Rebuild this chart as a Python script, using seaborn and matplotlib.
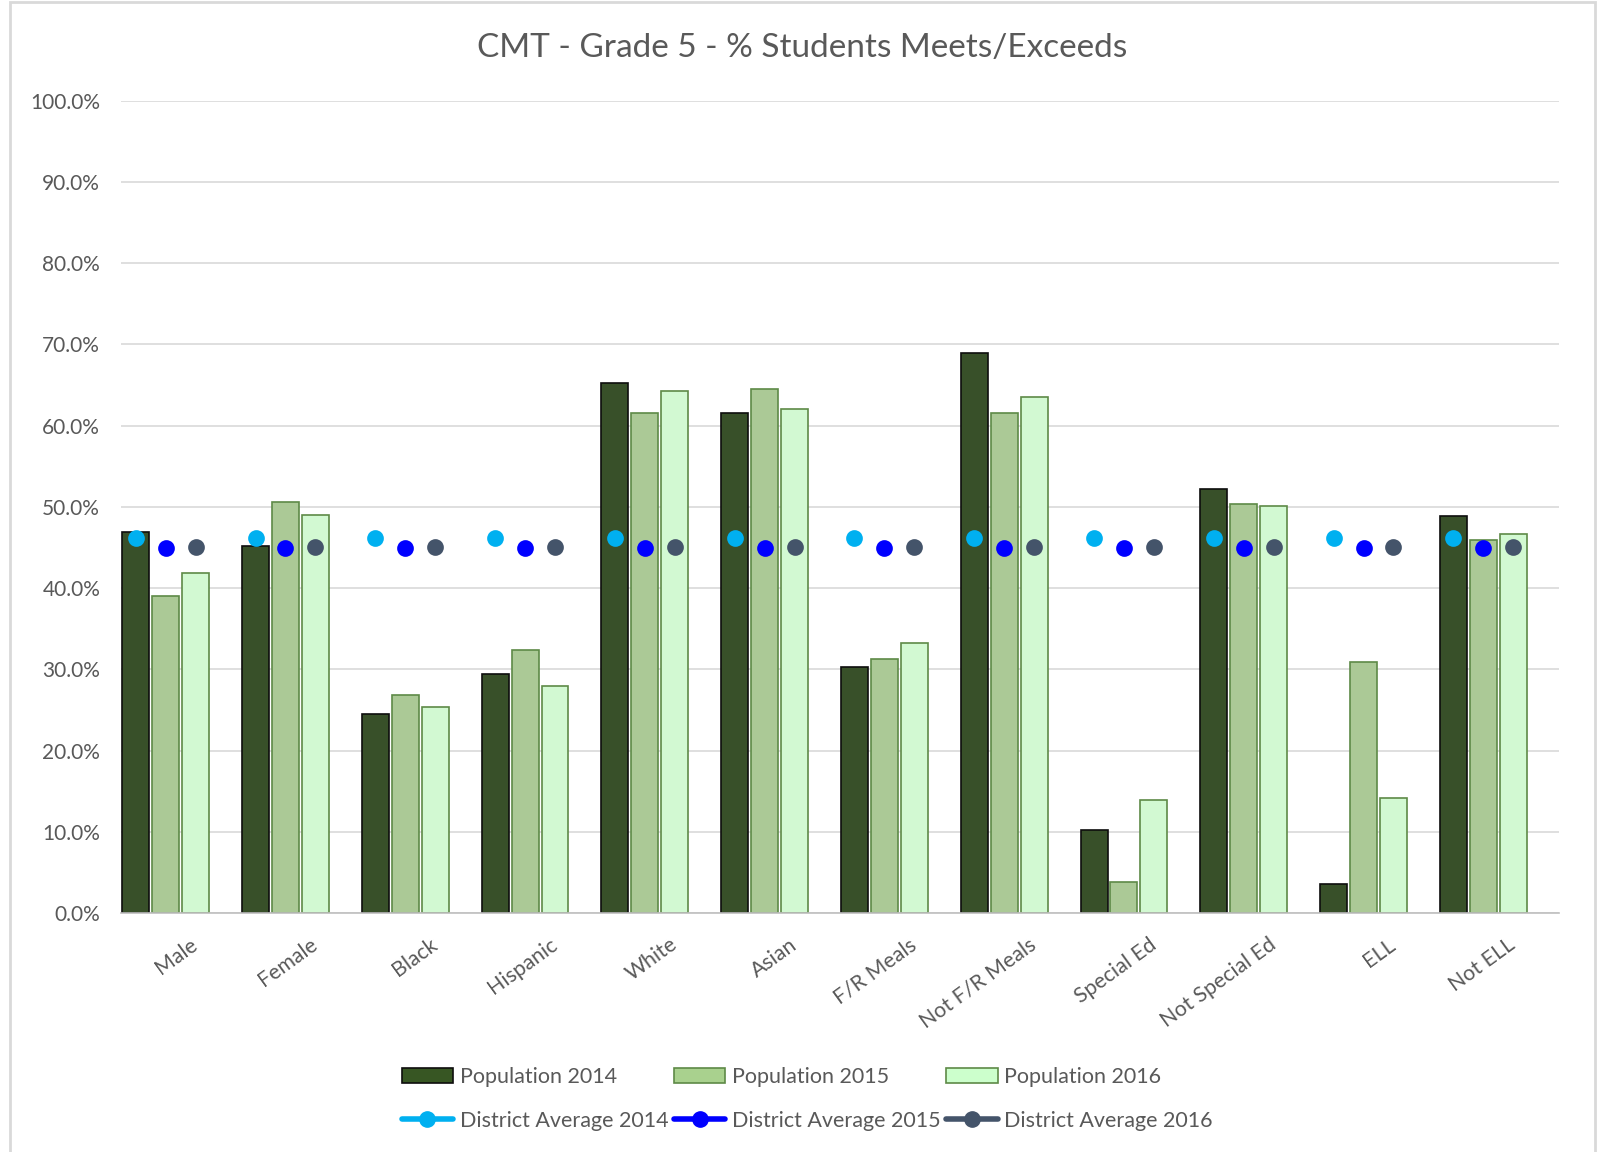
## Importing libraries
import pandas as pd
import numpy as np
import matplotlib
matplotlib.use("Agg")
import matplotlib.pyplot as plt
import seaborn as sns
from matplotlib.patches import Patch, Rectangle
from matplotlib.lines import Line2D
from matplotlib.ticker import FuncFormatter, MultipleLocator
from matplotlib.transforms import ScaledTranslation

## Chart data (percent of students meeting / exceeding)
groups = ['Male', 'Female', 'Black', 'Hispanic', 'White', 'Asian', 'F/R Meals',
          'Not F/R Meals', 'Special Ed', 'Not Special Ed', 'ELL', 'Not ELL']
pop_2014 = [46.9, 45.2, 24.5, 29.5, 65.3, 61.5, 30.3, 68.9, 10.3, 52.2, 3.6, 48.9]
pop_2015 = [39.1, 50.6, 26.9, 32.4, 61.5, 64.5, 31.3, 61.6, 3.8, 50.3, 30.9, 45.9]
pop_2016 = [41.9, 49.0, 25.4, 28.0, 64.3, 62.1, 33.3, 63.5, 14.0, 50.1, 14.2, 46.7]
dist_2014 = [46.2, 46.2, 46.2, 46.2, 46.2, 46.2, 46.2, 46.2, 46.2, 46.2, 46.2, 46.2]
dist_2015 = [44.9, 44.9, 44.9, 44.9, 44.9, 44.9, 44.9, 44.9, 44.9, 44.9, 44.9, 44.9]
dist_2016 = [45.1, 45.1, 45.1, 45.1, 45.1, 45.1, 45.1, 45.1, 45.1, 45.1, 45.1, 45.1]

pop_names = ['Population 2014', 'Population 2015', 'Population 2016']
dist_names = ['District Average 2014', 'District Average 2015', 'District Average 2016']

pop = pd.concat([pd.DataFrame({'group': groups, 'series': n, 'value': v})
                 for n, v in zip(pop_names, [pop_2014, pop_2015, pop_2016])])
dist = pd.concat([pd.DataFrame({'group': groups, 'series': n, 'value': v})
                  for n, v in zip(dist_names, [dist_2014, dist_2015, dist_2016])])

## Styling
bar_fill = ['#375623', '#A9D18E', '#CCFFCC']
bar_edge = ['#0D0D0D', '#5E8A47', '#5E8A47']
dot_colors = ['#00B0F0', '#0000FF', '#44546A']
text_grey = '#595959'

sns.set_style('white')
plt.rcParams['font.family'] = ['Lato', 'DejaVu Sans']

fig = plt.figure(figsize=(16.09, 11.52), dpi=100)
ax = fig.add_axes([0.0752, 0.2072, 0.8936, 0.7055])

## Bars
sns.barplot(data=pop, x='group', y='value', hue='series', hue_order=pop_names,
            palette=bar_fill, width=0.75, gap=0.1, linewidth=1.2,
            legend=False, ax=ax)
for cont, ec in zip(ax.containers, bar_edge):
    for p in cont:
        p.set_edgecolor(ec)

## District average markers
sns.pointplot(data=dist, x='group', y='value', hue='series', hue_order=dist_names,
              palette=dot_colors, dodge=0.5, linestyle='none', markers='o',
              markersize=10, errorbar=None, legend=False, ax=ax)

## Axes
ax.set_xlim(-0.373, 11.63)
ax.set_ylim(0, 100)
ax.yaxis.set_major_locator(MultipleLocator(10))
ax.yaxis.set_major_formatter(FuncFormatter(lambda v, _: f'{v:.1f}%'))
ax.yaxis.grid(True, color='#D9D9D9', linewidth=1.2)
ax.set_axisbelow(True)
for s in ['top', 'right', 'left']:
    ax.spines[s].set_visible(False)
ax.spines['bottom'].set_color('#BFBFBF')
ax.spines['bottom'].set_linewidth(1.2)
ax.set_xlabel('')
ax.set_ylabel('')
ax.tick_params(axis='y', length=0, pad=15, labelsize=15, labelcolor=text_grey)
ax.tick_params(axis='x', length=0, pad=21, labelsize=15.3, labelcolor=text_grey)

shift = ScaledTranslation(0.30, 0, fig.dpi_scale_trans)
for lab in ax.get_xticklabels():
    lab.set_rotation(36)
    lab.set_rotation_mode('anchor')
    lab.set_ha('right')
    lab.set_va('center')
    lab.set_transform(lab.get_transform() + shift)

## Title
fig.text(0.4985, 0.958, 'CMT - Grade 5 - % Students Meets/Exceeds',
         ha='center', va='center', fontsize=24, color=text_grey)

## Legend
handles = []
for i in range(3):
    handles.append(Patch(facecolor=bar_fill[i], edgecolor=bar_edge[i], linewidth=1.2))
    handles.append(Line2D([], [], color=dot_colors[i], linewidth=4, marker='o', markersize=11))
labels = []
for i in range(3):
    labels += [pop_names[i], dist_names[i]]
fig.legend(handles, labels, ncol=3, loc='center', bbox_to_anchor=(0.5016, 0.046),
           frameon=False, fontsize=15.5, labelcolor=text_grey, handlelength=2.4,
           handletextpad=0.3, columnspacing=0.25, labelspacing=1.1)

## Chart frame
fig.patches.append(Rectangle((10 / 1609, -0.01), 1585 / 1609, 1.0083, transform=fig.transFigure,
                             fill=False, edgecolor='#D9D9D9', linewidth=2))

fig.savefig('out.png', dpi=100)
